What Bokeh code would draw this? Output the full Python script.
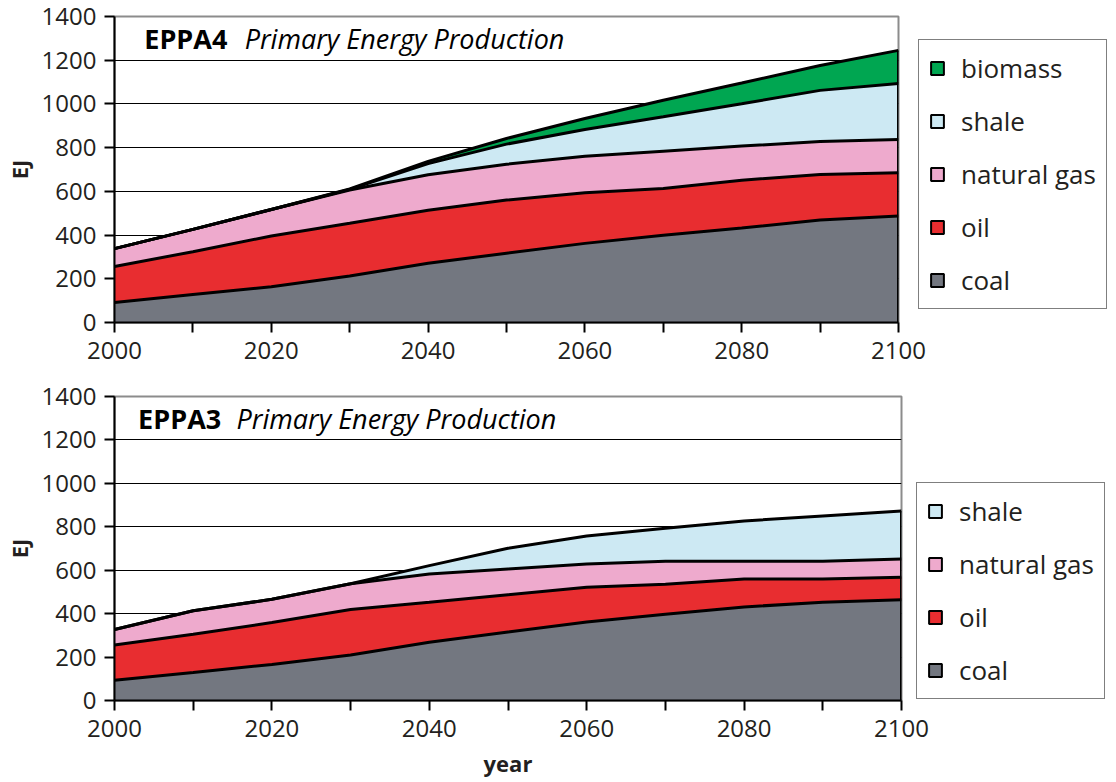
import numpy as np
from bokeh.plotting import figure
from bokeh.layouts import column
from bokeh.models import Legend, LegendItem, Label, FixedTicker, Range1d
from bokeh.embed import file_html
from bokeh.resources import INLINE

years = [2000, 2010, 2020, 2030, 2040, 2050, 2060, 2070, 2080, 2090, 2100]

# EPPA4 (EJ per source)
coal4 = [91, 128, 164, 213, 271, 317, 362, 399, 432, 469, 487]
oil4 = [165, 196, 232, 241, 243, 243, 232, 214, 219, 208, 198]
gas4 = [82, 102, 121, 152, 162, 164, 167, 171, 156, 151, 152]
shale4 = [0, 0, 0, 3, 51, 92, 122, 157, 194, 234, 256]
biomass4 = [0, 0, 0, 2, 10, 26, 50, 76, 95, 114, 152]

# EPPA3 (EJ per source)
coal3 = [93, 129, 166, 210, 268, 315, 361, 397, 431, 452, 464]
oil3 = [163, 176, 193, 209, 184, 172, 161, 138, 129, 108, 104]
gas3 = [71, 108, 107, 119, 131, 119, 107, 106, 81, 81, 84]
shale3 = [0, 0, 0, 0, 38, 95, 129, 152, 186, 209, 221]

names = ["coal", "oil", "natural gas", "shale", "biomass"]
colors = {"coal": "#737780", "oil": "#e82d30", "natural gas": "#eeaacd",
          "shale": "#cde9f3", "biomass": "#00a651"}

y_ticks = [0, 200, 400, 600, 800, 1000, 1200, 1400]
x_labels = {2000: "2000", 2020: "2020", 2040: "2040", 2060: "2060", 2080: "2080", 2100: "2100"}

FONT = "Open Sans"
TXT = "#231f20"


def make_chart(tag, series, fw, fh, mtop, mbottom, mright, legend_loc, xlabel, tag_x, title_x, title_y):
    p = figure(frame_width=fw, frame_height=fh, min_border_left=110, min_border_right=mright,
               min_border_top=mtop, min_border_bottom=mbottom,
               x_range=Range1d(2000, 2100), y_range=Range1d(0, 1400),
               output_backend="svg", toolbar_location=None, background_fill_color="white")
    p.outline_line_color = "#8c8c8c"
    p.outline_line_width = 2
    p.xgrid.grid_line_color = None
    p.ygrid.grid_line_color = "black"
    p.ygrid.grid_line_width = 1
    p.ygrid.ticker = FixedTicker(ticks=y_ticks)

    for ax in (p.xaxis[0], p.yaxis[0]):
        ax.axis_line_color = "black"
        ax.axis_line_width = 2
        ax.major_tick_line_color = "black"
        ax.major_tick_line_width = 2
        ax.major_tick_out = 10
        ax.major_tick_in = 0
        ax.minor_tick_line_color = None
        ax.major_label_text_font = FONT
        ax.major_label_text_font_size = "24px"
        ax.major_label_text_color = TXT
        ax.axis_label_text_font = FONT
        ax.axis_label_text_font_style = "bold"
        ax.axis_label_text_font_size = "22px"
        ax.axis_label_text_color = TXT
    p.xaxis.ticker = FixedTicker(ticks=years)
    p.xaxis.major_label_overrides = {y: x_labels.get(y, "") for y in years}
    p.xaxis.major_label_standoff = 9
    p.yaxis.ticker = FixedTicker(ticks=y_ticks)
    p.yaxis.major_label_standoff = 8
    p.yaxis.axis_label = "EJ"
    p.yaxis.axis_label_standoff = 5
    if xlabel:
        p.xaxis.axis_label = "year"
        p.xaxis.axis_label_standoff = 8

    keys = [k for k in names if k in series]
    bottom = np.zeros(len(years))
    tops = []
    for k in keys:
        top = bottom + np.array(series[k], dtype=float)
        p.varea(x=years, y1=bottom, y2=top, fill_color=colors[k])
        tops.append(top)
        bottom = top
    for top in tops:
        p.line(x=years, y=top, line_color="black", line_width=3)
    p.segment(x0=[years[-1]], y0=[0], x1=[years[-1]], y1=[tops[-1][-1]], line_color="black", line_width=3)

    items = []
    for k in reversed(keys):
        # hidden one-point quad: only used to draw the bordered legend swatch
        r = p.quad(left=[years[0]], right=[years[0]], top=[0], bottom=[0],
                   fill_color=colors[k], line_color="black", line_width=2, visible=False)
        items.append(LegendItem(label=k, renderers=[r]))
    leg = Legend(items=items, location=legend_loc, margin=0, padding=10, spacing=17,
                 glyph_width=16, glyph_height=16, label_standoff=16,
                 label_text_font=FONT, label_text_font_size="26px", label_text_color=TXT,
                 border_line_color="black", border_line_width=1, background_fill_alpha=1,
                 inactive_fill_alpha=0)
    p.add_layout(leg, "right")

    p.add_layout(Label(x=tag_x, y=title_y, text=tag, text_font=FONT, text_font_style="bold",
                       text_font_size="27px", text_color="black", text_baseline="alphabetic"))
    p.add_layout(Label(x=title_x, y=title_y, text="Primary Energy Production", text_font=FONT,
                       text_font_style="italic", text_font_size="27px", text_color="black",
                       text_baseline="alphabetic"))
    return p


p1 = make_chart("EPPA4", {"coal": coal4, "oil": oil4, "natural gas": gas4, "shale": shale4, "biomass": biomass4},
                784, 306, 16, 58, 216, (20, 13), False, 2003.8, 2016.6, 1300)
p2 = make_chart("EPPA3", {"coal": coal3, "oil": oil3, "natural gas": gas3, "shale": shale3},
                787, 304, 16, 80, 213, (15, 1), True, 2003.0, 2015.5, 1298)

layout = column(p1, p2, spacing=0)
open("out.html", "w").write(file_html(layout, INLINE))
